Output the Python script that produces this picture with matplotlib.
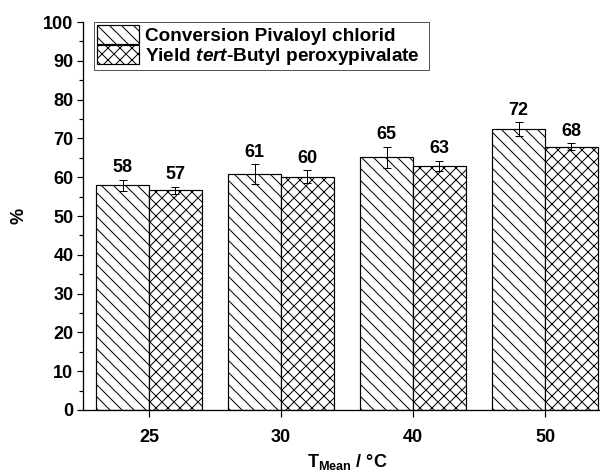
import numpy as np
import matplotlib
matplotlib.use('Agg')
import matplotlib.pyplot as plt

plt.rcParams['font.family'] = ['Liberation Sans', 'DejaVu Sans']
plt.rcParams['font.weight'] = 'bold'
plt.rcParams['mathtext.fontset'] = 'custom'
plt.rcParams['mathtext.rm'] = 'Liberation Sans:bold'
plt.rcParams['mathtext.bf'] = 'Liberation Sans:bold'
plt.rcParams['mathtext.it'] = 'Liberation Sans:bold:italic'
plt.rcParams['hatch.linewidth'] = 1.0

# data
temps = ['25', '30', '40', '50']
conversion = [57.9, 60.8, 65.2, 72.3]
conversion_err = [1.5, 2.6, 2.7, 1.8]
yield_tbpp = [56.6, 60.1, 62.9, 67.9]
yield_err = [1.0, 1.7, 1.4, 0.9]
conv_labels = ['58', '61', '65', '72']
yield_labels = ['57', '60', '63', '68']

fig = plt.figure(figsize=(600/72, 473/72), dpi=72)
ax = fig.add_axes([83/600, 1-410/473, 528/600, 388/473])

x = np.arange(len(temps))
w = 0.4
ax.bar(x-w/2, conversion, w, yerr=conversion_err, color='white', edgecolor='black',
       linewidth=1.2, hatch='\\\\', capsize=4, error_kw=dict(elinewidth=1, capthick=1),
       label='Conversion Pivaloyl chlorid')
ax.bar(x+w/2, yield_tbpp, w, yerr=yield_err, color='white', edgecolor='black',
       linewidth=1.2, hatch='xx', capsize=4, error_kw=dict(elinewidth=1, capthick=1),
       label=r'Yield $\mathit{tert}$-Butyl peroxypivalate  ')

for i in range(len(temps)):
    ax.text(x[i]-w/2, conversion[i]+conversion_err[i]+0.8, conv_labels[i],
            ha='center', va='bottom', fontsize=18, fontweight='bold')
    ax.text(x[i]+w/2, yield_tbpp[i]+yield_err[i]+0.8, yield_labels[i],
            ha='center', va='bottom', fontsize=18, fontweight='bold')

ax.set_xlim(-0.5, 3.5)
ax.set_ylim(0, 100)
ax.set_xticks(x)
ax.set_xticklabels(temps)
ax.set_yticks(np.arange(0, 101, 10))
ax.set_yticks(np.arange(5, 100, 10), minor=True)
ax.tick_params(axis='both', which='major', direction='out', length=6, width=1.2,
               labelsize=18)
ax.tick_params(axis='x', which='major', length=7, pad=12)
ax.tick_params(axis='y', which='minor', direction='out', length=4, width=1.2)
for s in ['top', 'right']:
    ax.spines[s].set_visible(False)
for s in ['left', 'bottom']:
    ax.spines[s].set_linewidth(1.3)

ax.set_ylabel('%', fontsize=18, fontweight='bold', labelpad=16)
ax.set_xlabel(r'$\mathbf{T_{Mean}}$ / °C', fontsize=18, fontweight='bold', labelpad=6)

leg = ax.legend(loc='upper left', bbox_to_anchor=(0.021, 1.0), borderaxespad=0,
                fontsize=19, handlelength=2.2, handleheight=1.2, labelspacing=0,
                handletextpad=0.35, borderpad=0.15, fancybox=False, framealpha=1)
leg.get_frame().set_edgecolor('#555555')
leg.get_frame().set_linewidth(1.0)

fig.savefig('out.png', dpi=72)
